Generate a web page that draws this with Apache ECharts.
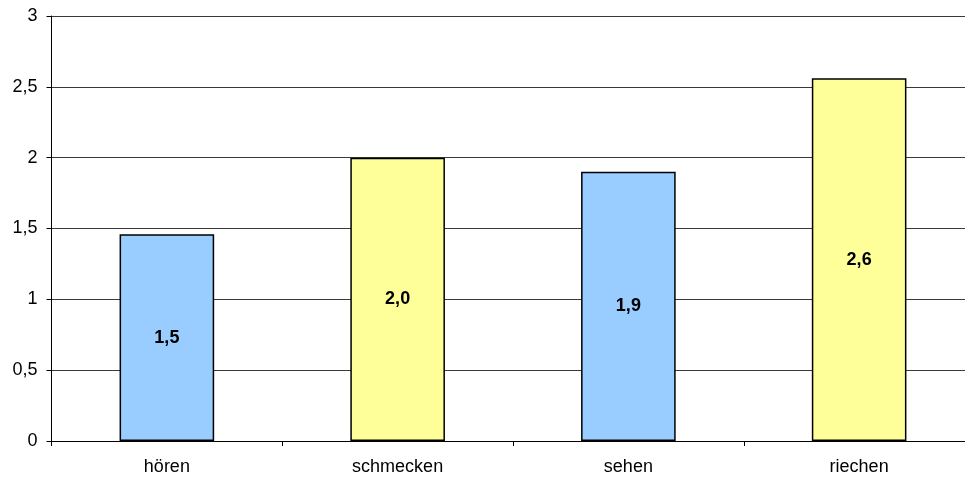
<!DOCTYPE html>
<html>
<head>
<meta charset="utf-8">
<script src="https://cdn.jsdelivr.net/npm/echarts@6/dist/echarts.min.js"></script>
<style>
  html, body { margin: 0; padding: 0; background: #fff; overflow: hidden; }
  #chart { width: 980px; height: 481px; }
</style>
</head>
<body>
<div id="chart"></div>
<script>
// Categories and mean scores
const categories = ['hören', 'schmecken', 'sehen', 'riechen'];
const values = [1.46, 2.0, 1.9, 2.56];
const yTicks = [0, 0.5, 1, 1.5, 2, 2.5, 3];

// Alternating bar fills
const palette = ['#99CCFF', '#FFFF99'];

const FONT = 'Liberation Sans, Arial, sans-serif';
const fmt = v => String(v).replace('.', ',');

const chart = echarts.init(document.getElementById('chart'), null, { renderer: 'canvas' });
chart.setOption({
  animation: false,
  backgroundColor: '#ffffff',
  textStyle: { fontFamily: FONT },
  // plot area runs a little past the right edge of the window
  grid: { left: 51.5, top: 16, width: 923, height: 425, containLabel: false },
  xAxis: {
    type: 'category',
    data: categories,
    boundaryGap: true,
    axisLine: { lineStyle: { color: '#000', width: 1 } },
    axisTick: { show: true, length: 5, alignWithLabel: false, lineStyle: { color: '#000' } },
    axisLabel: { color: '#000', fontSize: 18, margin: 17, fontFamily: FONT }
  },
  yAxis: {
    type: 'value',
    min: yTicks[0],
    max: yTicks[yTicks.length - 1],
    interval: 0.5,
    axisLine: { show: true, lineStyle: { color: '#000', width: 1 } },
    axisTick: { show: true, length: 5, lineStyle: { color: '#000' } },
    axisLabel: {
      color: '#000', fontSize: 18, margin: 14,
      fontFamily: FONT,
      formatter: v => fmt(v)
    },
    splitLine: { show: true, lineStyle: { color: '#3a3a3a', width: 1 } }
  },
  series: [{
    type: 'bar',
    barWidth: '41%',
    data: values.map((v, i) => ({
      value: v,
      itemStyle: { color: palette[i % palette.length], borderColor: '#000', borderWidth: 1.5 }
    })),
    label: {
      show: true,
      position: 'inside',
      color: '#000',
      fontWeight: 'bold',
      fontSize: 18,
      fontFamily: FONT,
      formatter: p => (Math.round(p.value * 10) / 10).toFixed(1).replace('.', ',')
    }
  }]
});
</script>
</body>
</html>
